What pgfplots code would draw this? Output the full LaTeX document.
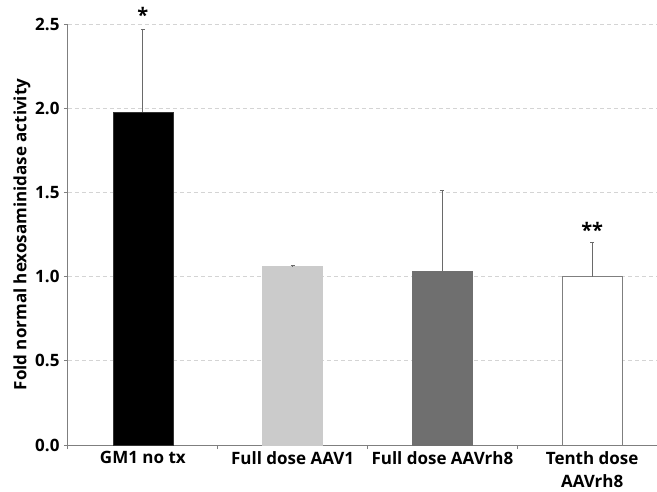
\documentclass[border=0pt]{standalone}
\usepackage{fontspec}
\setmainfont{Open Sans}
\usepackage{pgfplots}
\pgfplotsset{compat=1.18}
\definecolor{axisgray}{HTML}{7F7F7F}
\definecolor{gridgray}{HTML}{D4D4D4}
\definecolor{bartwo}{HTML}{CBCBCB}
\definecolor{barthree}{HTML}{6F6F6F}
\definecolor{errgray}{HTML}{6A6A6A}
\begin{document}
\begin{tikzpicture}
\useasboundingbox (-68pt,-46pt) rectangle (589pt,445pt);
\begin{axis}[
  at={(0,0)}, anchor=south west,
  scale only axis, width=589pt, height=421pt,
  clip=false,
  xmin=-0.5, xmax=3.433, ymin=0, ymax=2.5,
  axis x line=bottom, axis y line=left,
  axis line style={draw=axisgray, line width=1pt, -},
  xtick={0,1,2,3},
  xticklabels={GM1 no tx, Full dose AAV1, Full dose AAVrh8, {Tenth dose\\AAVrh8}},
  xticklabel style={align=center, font=\bfseries\fontsize{17}{23}\selectfont, yshift=1pt},
  major x tick style={draw=none},
  minor xtick={-0.5,0.5,1.5,2.5},
  minor x tick style={draw=axisgray, line width=1pt},
  minor tick length=4pt,
  tick align=outside,
  ytick={0,0.5,1,1.5,2,2.5},
  major y tick style={draw=axisgray, line width=1pt},
  major tick length=4pt,
  yticklabel style={font=\bfseries\fontsize{17}{18}\selectfont, xshift=-1pt,
     /pgf/number format/.cd, fixed, fixed zerofill, precision=1, assume math mode=true},
  ymajorgrids,
  grid style={draw=gridgray, line width=0.9pt, dash pattern=on 4pt off 3pt},
  ylabel={Fold normal hexosaminidase activity},
  ylabel style={font=\bfseries\fontsize{17}{18}\selectfont, yshift=-2pt},
  ybar, bar width=60pt,
  error bars/y dir=plus, error bars/y explicit,
  error bars/error bar style={draw=errgray, line width=1pt},
  error bars/error mark options={draw=errgray, line width=1pt, mark size=2pt, rotate=90},
]
\addplot[bar shift=0pt, fill=black, draw=black!80] coordinates {(0,1.975) +- (0,0.49)};
\addplot[bar shift=0pt, fill=bartwo, draw=bartwo] coordinates {(1,1.06) +- (0,0.004)};
\addplot[bar shift=0pt, fill=barthree, draw=barthree] coordinates {(2,1.035) +- (0,0.475)};
\addplot[bar shift=0pt, fill=white, draw=axisgray, line width=1pt] coordinates {(3,1.0) +- (0,0.2)};
\node[font=\bfseries\fontsize{20}{20}\selectfont] at (axis cs:0,2.555) {*};
\node[font=\bfseries\fontsize{20}{20}\selectfont] at (axis cs:3,1.28) {**};
\end{axis}
\end{tikzpicture}
\end{document}
